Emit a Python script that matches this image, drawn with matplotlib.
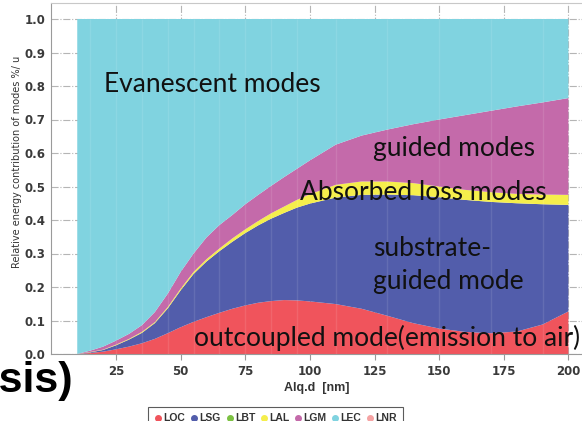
import matplotlib
matplotlib.use("Agg")
import numpy as np
from matplotlib import pyplot as plt
from matplotlib.lines import Line2D

# Alq layer thickness [nm]
thickness = [10, 15, 20, 25, 30, 35, 40, 45, 50, 55, 60, 65, 70, 75, 80, 85, 90, 95,
             100, 110, 120, 130, 140, 150, 160, 170, 180, 190, 200]

# Fraction of emitted power going into each mode
loc = [0.000, 0.003, 0.007, 0.014, 0.022, 0.032, 0.045, 0.062, 0.080, 0.096,
       0.110, 0.123, 0.135, 0.145, 0.153, 0.158, 0.161, 0.160, 0.157, 0.149,
       0.135, 0.114, 0.092, 0.076, 0.066, 0.062, 0.067, 0.088, 0.127]
lsg = [0.000, 0.002, 0.005, 0.012, 0.021, 0.031, 0.047, 0.074, 0.110, 0.143,
       0.166, 0.184, 0.200, 0.216, 0.231, 0.246, 0.260, 0.277, 0.292, 0.318,
       0.340, 0.362, 0.382, 0.392, 0.394, 0.392, 0.383, 0.359, 0.318]
lbt = [0.0] * len(thickness)
lal = [0.000, 0.001, 0.001, 0.002, 0.002, 0.003, 0.003, 0.004, 0.005, 0.006,
       0.007, 0.008, 0.010, 0.011, 0.013, 0.016, 0.019, 0.023, 0.028, 0.038,
       0.040, 0.039, 0.036, 0.032, 0.030, 0.029, 0.028, 0.029, 0.030]
lgm = [0.000, 0.004, 0.009, 0.012, 0.015, 0.020, 0.030, 0.040, 0.050, 0.055,
       0.065, 0.070, 0.070, 0.075, 0.078, 0.082, 0.088, 0.093, 0.101, 0.120,
       0.137, 0.155, 0.176, 0.200, 0.223, 0.243, 0.261, 0.275, 0.289]
lnr = [0.0] * len(thickness)
# evanescent part fills the rest up to 1
lec = list(1 - np.array(loc) - np.array(lsg) - np.array(lal) - np.array(lgm))

names = ["LOC", "LSG", "LBT", "LAL", "LGM", "LEC", "LNR"]
colors = ["#f0545c", "#525dab", "#7cc142", "#f5ee4c", "#c46aaa", "#80d3e0", "#f5a3a3"]
x_ticks = [25, 50, 75, 100, 125, 150, 175, 200]
y_ticks = [0.0, 0.1, 0.2, 0.3, 0.4, 0.5, 0.6, 0.7, 0.8, 0.9, 1.0]

fig = plt.figure(figsize=(5.82, 4.21), dpi=100)
W, H = 582, 421
# axes in pixel terms: x=0 at 51.4 px, 1 nm = 2.585 px, y=0 at 354 px, 0.1 = 33.5 px
ax = fig.add_axes([51.4 / W, (H - 354) / H, (W - 51.4) / W, 351 / H])
ax.set_xlim(0, (W - 51.4) / 2.585)
ax.set_ylim(0, 351 / 335)

ax.stackplot(thickness, loc, lsg, lbt, lal, lgm, lec, lnr,
             colors=colors, linewidth=0, zorder=2)
# faint seams between the polygon segments
ax.vlines(thickness[1:-1:2], 0, 1, colors="white", alpha=0.1, lw=1, zorder=3)

ax.grid(True, color="#b5b5b5", linestyle="-.", linewidth=0.8, zorder=0)
ax.set_axisbelow(True)

ax.set_xticks(x_ticks)
ax.set_yticks(y_ticks)
ax.set_xticklabels([str(t) for t in x_ticks])
ax.set_yticklabels(["%.1f" % t for t in y_ticks])
for lab in ax.get_xticklabels() + ax.get_yticklabels():
    lab.set_fontweight("bold")
    lab.set_fontsize(8.5)
    lab.set_color("#3a3a3a")
ax.tick_params(axis="x", direction="out", length=4, color="#999999", pad=4)
ax.tick_params(axis="y", length=0, pad=4)

for side in ["left", "bottom"]:
    ax.spines[side].set_color("#9a9a9a")
ax.spines["top"].set_color("#c8c8c8")
ax.spines["right"].set_visible(False)

ax.set_xlabel("Alq.d  [nm]", fontsize=9, fontweight="bold", color="#333333",
              family="Liberation Sans", labelpad=3)
fig.text(17 / W, 1 - 162 / H, "Relative energy contribution of modes %/ u",
         rotation=90, fontsize=7, color="#333333", ha="center", va="center")

# mode labels inside the bands
txt = dict(family="Lato", fontsize=19, color="#111111", va="center", ha="left", zorder=5)
ax.text(20.5, 0.805, "Evanescent modes", **txt)
ax.text(124.5, 0.614, "guided modes", **txt)
ax.text(96, 0.482, "Absorbed loss modes", **txt)
ax.text(124.5, 0.314, "substrate-", **txt)
ax.text(124.5, 0.215, "guided mode", **txt)
ax.text(55, 0.048, "outcoupled mode(emission to air)", **txt)

# slide title running off the left edge
fig.text(73 / W, 1 - 381 / H, "analysis)", fontsize=31, fontweight="bold",
         family="Liberation Sans", ha="right", va="center", color="black")

handles = [Line2D([], [], marker="o", linestyle="none", markersize=4,
                  markerfacecolor=c, markeredgecolor=c) for c in colors]
leg = fig.legend(handles, names, loc="upper left", ncol=7,
                 bbox_to_anchor=(148 / W, 1 - 407 / H), frameon=True, fancybox=False,
                 prop={"family": "Liberation Sans", "weight": "bold", "size": 7.5},
                 handletextpad=0.1, columnspacing=0.45,
                 borderpad=0.6, handlelength=0.8, borderaxespad=0)
leg.get_frame().set_edgecolor("#333333")
leg.get_frame().set_linewidth(0.8)
for t in leg.get_texts():
    t.set_color("#333333")

fig.savefig("out.png", dpi=100)
